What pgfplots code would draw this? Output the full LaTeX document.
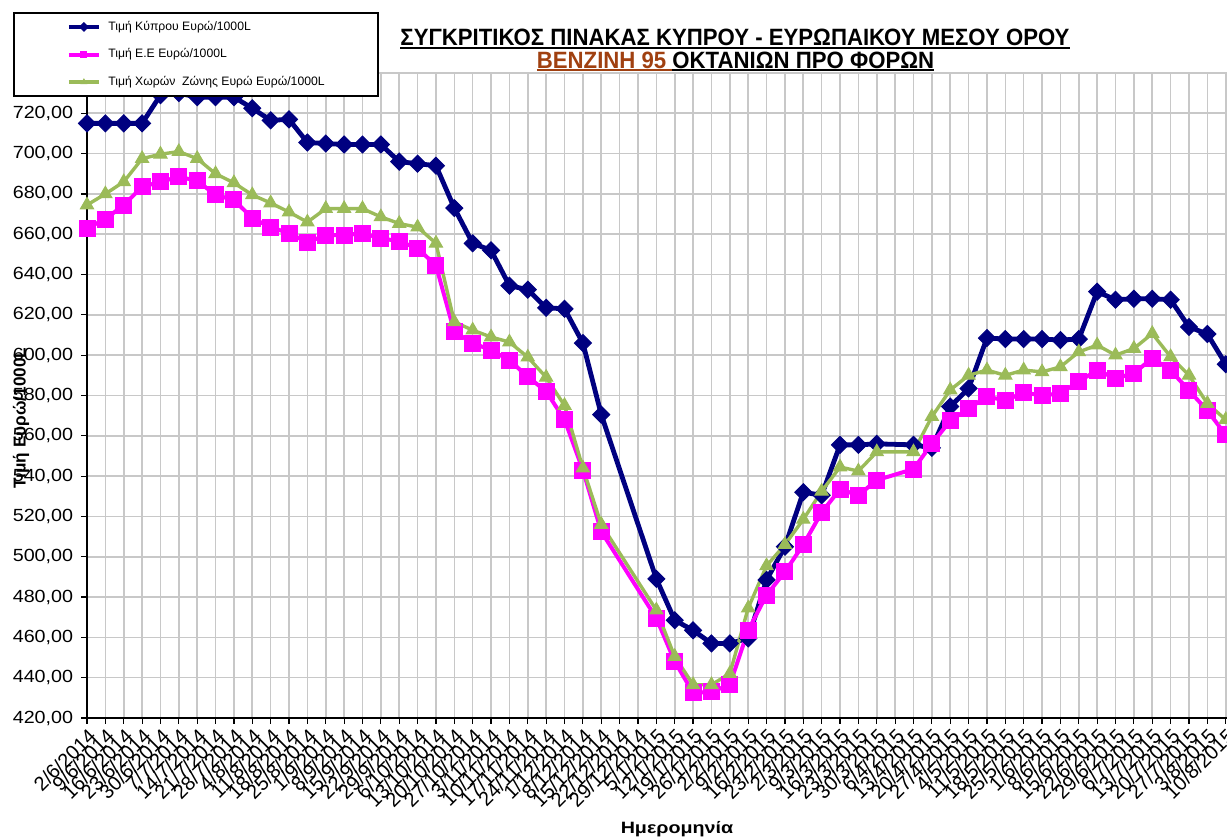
\documentclass[border=0pt]{standalone}
\usepackage{fontspec}
\setmainfont{Liberation Sans}
\usepackage{pgfplots}
\pgfplotsset{compat=1.18}
\definecolor{cyblue}{RGB}{0,0,128}
\definecolor{eumag}{RGB}{255,0,255}
\definecolor{ezgreen}{RGB}{155,187,89}
\definecolor{titlebrown}{RGB}{160,64,16}
\definecolor{gridgray}{RGB}{200,200,200}
\newcommand{\ulbox}[1]{\setbox0=\hbox{#1}\rlap{\rule[-1.6pt]{\wd0}{1pt}}\box0}
\begin{document}
\begin{tikzpicture}
\useasboundingbox (0,0) rectangle (613.5pt,419pt);
\begin{axis}[
  at={(43.5pt,60pt)}, anchor=south west,
  scale only axis, width=570pt, height=322.5pt,
  xmin=0, xmax=62.07, ymin=420, ymax=740,
  clip=false,
  axis x line*=bottom, axis y line*=left,
  axis line style={black, line width=0.7pt},
  tick align=outside, major tick length=3pt,
  tick style={black, line width=0.6pt},
  xtick={0,...,62},
  xticklabels={2/6/2014,9/6/2014,16/6/2014,23/6/2014,30/6/2014,7/7/2014,14/7/2014,21/7/2014,28/7/2014,4/8/2014,11/8/2014,18/8/2014,25/8/2014,1/9/2014,8/9/2014,15/9/2014,22/9/2014,29/9/2014,6/10/2014,13/10/2014,20/10/2014,27/10/2014,3/11/2014,10/11/2014,17/11/2014,24/11/2014,1/12/2014,8/12/2014,15/12/2014,22/12/2014,29/12/2014,5/1/2015,12/1/2015,19/1/2015,26/1/2015,2/2/2015,9/2/2015,16/2/2015,23/2/2015,2/3/2015,9/3/2015,16/3/2015,23/3/2015,30/3/2015,6/4/2015,13/4/2015,20/4/2015,27/4/2015,4/5/2015,11/5/2015,18/5/2015,25/5/2015,1/6/2015,8/6/2015,15/6/2015,22/6/2015,29/6/2015,6/7/2015,13/7/2015,20/7/2015,27/7/2015,3/8/2015,10/8/2015},
  xticklabel style={rotate=45, anchor=north east, font=\fontsize{10}{11}\selectfont, inner sep=1pt},
  ytick={420,440,...,740},
  yticklabel style={font=\fontsize{8.8}{10}\selectfont, xscale=1.12, /pgf/number format/.cd, fixed, fixed zerofill, precision=2, use comma, assume math mode=true},
  grid=major, major grid style={gridgray, line width=0.8pt},
  xlabel={Ημερομηνία},
  ylabel={Τιμή Ευρώ/1000L},
  every axis x label/.style={at={(axis description cs:0.5175,-0.172)}, anchor=center, font=\bfseries\fontsize{8.2}{10}\selectfont, xscale=1.2},
  every axis y label/.style={at={(axis description cs:-0.0579,0.465)}, rotate=90, anchor=center, font=\bfseries\fontsize{8.6}{10}\selectfont},
  legend style={
    at={(axis description cs:-0.0649,1.0946)}, anchor=north west,
    draw=black, line width=0.9pt, fill=white,
    font=\fontsize{6.1}{7.5}\selectfont,
    inner xsep=26.3pt, inner ysep=3.6pt,
    row sep=6.9pt, column sep=3pt,
    nodes={inner sep=0.5pt, text height=4.6pt, text depth=1.3pt}
  },
  legend cell align=left,
  legend image code/.code={\draw[mark repeat=2,mark phase=2,#1] plot coordinates {(0pt,0pt) (7.5pt,0pt) (15pt,0pt)};},
  legend image post style={mark size=1.5pt},
]
\addplot[cyblue, line width=2.4pt, mark=square*, mark size=3pt, mark options={rotate=45, fill=cyblue, line width=0.5pt}] coordinates {
(0,715) (1,715) (2,715) (3,715) (4,729) (5,730) (6,728) (7,728) (8,728) (9,722.5) (10,716.5) (11,717) (12,705.5) (13,705) (14,704.5) (15,704.5) (16,704.5) (17,696) (18,695) (19,694) (20,673) (21,655.5) (22,652) (23,634.5) (24,632.5) (25,623.5) (26,623) (27,606) (28,570.5) (31,489) (32,468.5) (33,463.5) (34,457) (35,457) (36,459.5) (37,488.5) (38,505) (39,532) (40,530.5) (41,555.5) (42,555.5) (43,556) (45,555.5) (46,554) (47,574.5) (48,583.5) (49,608.5) (50,608) (51,608) (52,608) (53,607.5) (54,608) (55,631.5) (56,627.5) (57,628) (58,628) (59,627.5) (60,614) (61,610.5) (62,595.5)
};
\addlegendentry{Τιμή Κύπρου Ευρώ/1000L}
\addplot[eumag, line width=2pt, mark=square*, mark size=4pt, mark options={fill=eumag, line width=0.5pt}] coordinates {
(0,663) (1,667.5) (2,674.5) (3,683.5) (4,686) (5,688.5) (6,686.5) (7,679.5) (8,677) (9,668) (10,663.5) (11,660.5) (12,656) (13,659.5) (14,659.5) (15,660.5) (16,658) (17,656.5) (18,653) (19,644.5) (20,611.5) (21,606) (22,602.5) (23,597.5) (24,589.3) (25,582) (26,568) (27,543) (28,512.5) (31,469.5) (32,448) (33,432.5) (34,433) (35,436.5) (36,463.5) (37,481) (38,492.5) (39,506) (40,522) (41,533.5) (42,530.5) (43,538) (45,543.5) (46,556) (47,567.5) (48,573.5) (49,579.5) (50,577.5) (51,581.5) (52,580) (53,581) (54,587) (55,592.5) (56,588.5) (57,591) (58,598.5) (59,592.5) (60,582.5) (61,572.5) (62,560.5)
};
\addlegendentry{Τιμή Ε.Ε Ευρώ/1000L}
\addplot[ezgreen, line width=1.7pt, mark=triangle*, mark size=3.8pt, mark options={fill=ezgreen, line width=0.5pt}] coordinates {
(0,674.5) (1,680) (2,686) (3,697.5) (4,699.7) (5,701) (6,697.5) (7,690) (8,685.5) (9,679.5) (10,675.5) (11,671) (12,666) (13,672.7) (14,672.7) (15,672.7) (16,668.6) (17,665.3) (18,663.5) (19,655.5) (20,616.5) (21,612.4) (22,609) (23,606.5) (24,599) (25,589) (26,575) (27,544) (28,516) (31,473.5) (32,450.5) (33,436.5) (34,436.5) (35,442) (36,474.5) (37,495.5) (38,506) (39,518.5) (40,532.5) (41,544.5) (42,542.5) (43,552) (45,552) (46,569.5) (47,582.7) (48,590) (49,592.6) (50,590) (51,592.6) (52,591.7) (53,594.2) (54,601.6) (55,605) (56,600) (57,603.3) (58,610.7) (59,599.2) (60,590) (61,576) (62,568)
};
\addlegendentry{Τιμή Χωρών~ Ζώνης Ευρώ Ευρώ/1000L}
\end{axis}
\node[anchor=base, font=\bfseries\fontsize{11.8}{13}\selectfont, xscale=0.94] at (367.5pt,396.15pt) {\ulbox{ΣΥΓΚΡΙΤΙΚΟΣ ΠΙΝΑΚΑΣ ΚΥΠΡΟΥ - ΕΥΡΩΠΑΙΚΟΥ ΜΕΣΟΥ ΟΡΟΥ}};
\node[anchor=base, font=\bfseries\fontsize{11.8}{13}\selectfont, xscale=0.94] at (367.75pt,384.85pt) {{\color{titlebrown}\ulbox{ΒΕΝΖΙΝΗ 95 }}\ulbox{ΟΚΤΑΝΙΩΝ ΠΡΟ ΦΟΡΩΝ}};
\end{tikzpicture}
\end{document}
